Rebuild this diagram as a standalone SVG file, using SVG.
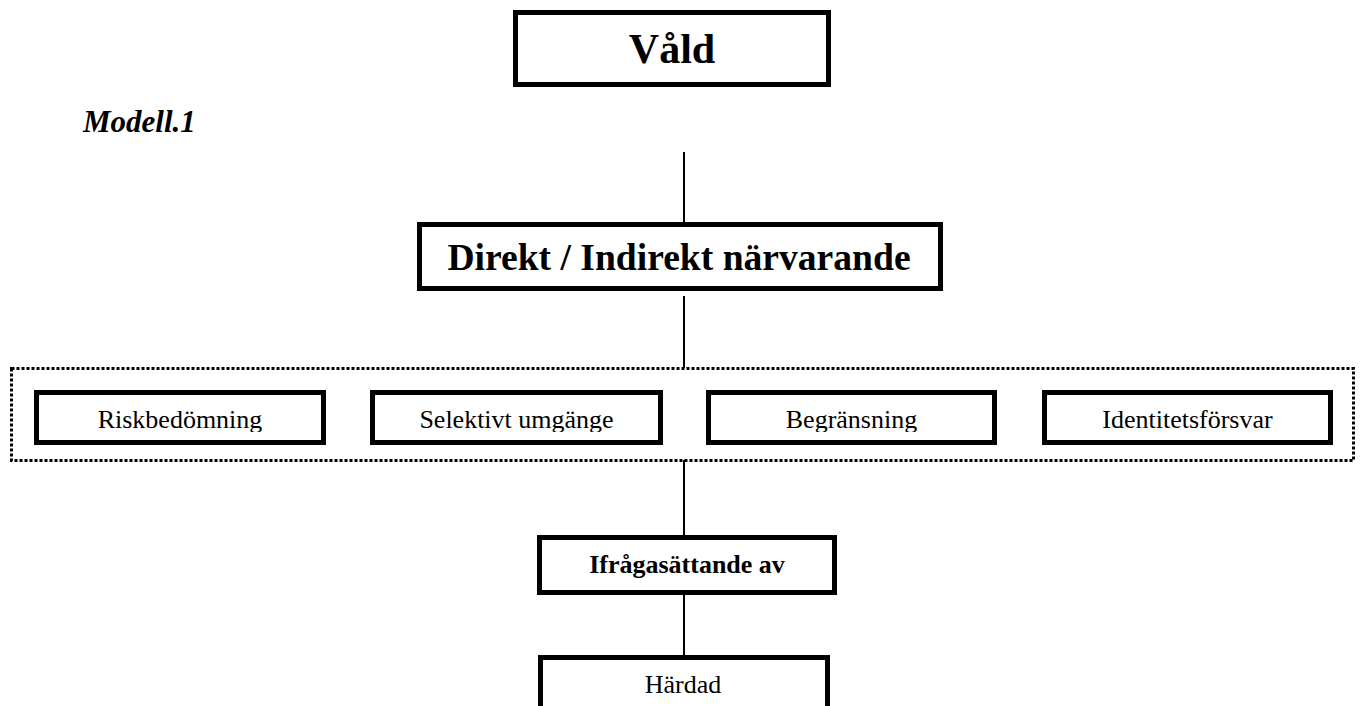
<svg xmlns="http://www.w3.org/2000/svg" width="1361" height="706" viewBox="0 0 1361 706">
  <style>
    .box { fill: #ffffff; stroke: #000000; stroke-width: 5; }
    .conn { stroke: #000000; stroke-width: 2; fill: none; }
    .dot { fill: none; stroke: #000000; stroke-width: 3; stroke-dasharray: 3 2; }
    .serif { font-family: "Liberation Serif", "Times New Roman", serif; fill: #000000; }
    .b { font-weight: bold; }
  </style>
  <defs>
    <clipPath id="clipRow"><rect x="0" y="380" width="1361" height="52"/></clipPath>
  </defs>
  <rect x="0" y="0" width="1361" height="706" fill="#ffffff"/>

  <g id="connectors">
    <line class="conn" x1="684" y1="152" x2="684" y2="222"/>
    <line class="conn" x1="684" y1="296" x2="684" y2="368"/>
    <line class="conn" x1="684" y1="460" x2="684" y2="536"/>
    <line class="conn" x1="684" y1="590" x2="684" y2="656"/>
  </g>

  <g id="vald">
    <rect class="box" x="515.5" y="12.5" width="313" height="72"/>
    <text class="serif b" x="672" y="63" font-size="42" text-anchor="middle">Våld</text>
  </g>

  <g id="modell">
    <text class="serif b" x="83" y="132" font-size="31" font-style="italic">Modell.1</text>
  </g>

  <g id="direkt">
    <rect class="box" x="419.5" y="224.5" width="521" height="64"/>
    <text class="serif b" x="679" y="270" font-size="37.6" text-anchor="middle">Direkt / Indirekt närvarande</text>
  </g>

  <g id="group">
    <rect class="dot" x="11.5" y="368.5" width="1342" height="92"/>
  </g>

  <g id="riskbedomning">
    <rect class="box" x="36.5" y="392.5" width="287" height="50"/>
    <text class="serif" x="180" y="428" font-size="26" text-anchor="middle" clip-path="url(#clipRow)">Riskbedömning</text>
  </g>

  <g id="selektivt">
    <rect class="box" x="372.5" y="392.5" width="288" height="50"/>
    <text class="serif" x="516.5" y="428" font-size="26" text-anchor="middle" clip-path="url(#clipRow)">Selektivt umgänge</text>
  </g>

  <g id="begransning">
    <rect class="box" x="708.5" y="392.5" width="286" height="50"/>
    <text class="serif" x="851.5" y="428" font-size="26" text-anchor="middle" clip-path="url(#clipRow)">Begränsning</text>
  </g>

  <g id="identitet">
    <rect class="box" x="1044.5" y="392.5" width="286" height="50"/>
    <text class="serif" x="1187.5" y="428" font-size="26" text-anchor="middle" clip-path="url(#clipRow)">Identitetsförsvar</text>
  </g>

  <g id="ifragasattande">
    <rect class="box" x="539.5" y="537.5" width="295" height="55"/>
    <text class="serif b" x="687" y="573" font-size="26" text-anchor="middle">Ifrågasättande av</text>
  </g>

  <g id="hardad">
    <rect class="box" x="540.5" y="657.5" width="287" height="70"/>
    <text class="serif" x="683" y="693" font-size="26" text-anchor="middle">Härdad</text>
  </g>
</svg>
